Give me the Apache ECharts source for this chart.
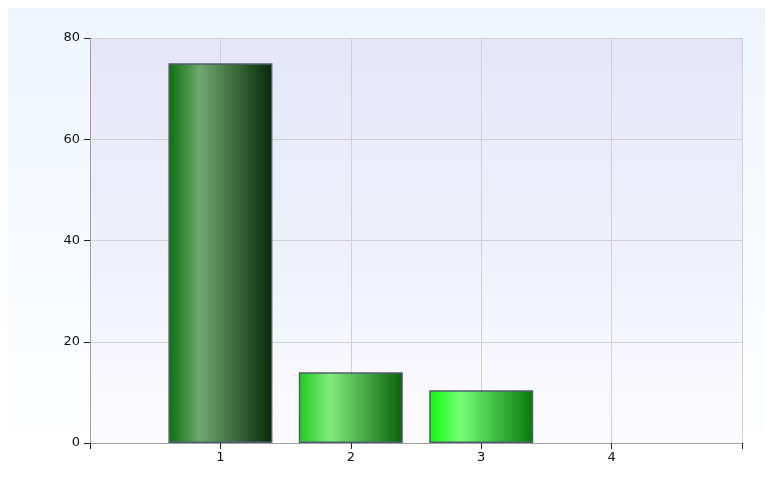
<!DOCTYPE html>
<html>
<head>
<meta charset="utf-8">
<script src="https://cdn.jsdelivr.net/npm/echarts@6/dist/echarts.min.js"></script>
<style>
    html, body { margin: 0; padding: 0; background: #ffffff; }
    #chart { width: 765px; height: 482px; }
</style>
</head>
<body>
<div id="chart"></div>
<script>
// 数据
const categories = [1, 2, 3, 4];
const values = [75, 14, 10.4, 0];
const yTicks = [0, 20, 40, 60, 80];
// bar gradients: left, highlight, right
const barColors = [
    ['#0b6e0b', '#6fa86f', '#062806'],
    ['#1ecb1e', '#80ec80', '#0a600a'],
    ['#12f812', '#74ff74', '#0a780a'],
    ['#12f812', '#74ff74', '#0a780a']
];

const myEcharts = echarts.init(document.getElementById('chart'));

function barGradient(c) {
    return new echarts.graphic.LinearGradient(0, 0, 1, 0, [
        { offset: 0, color: c[0] },
        { offset: 0.3, color: c[1] },
        { offset: 1, color: c[2] }
    ]);
}

const option = {
    animation: false,
    backgroundColor: '#ffffff',
    graphic: [{
        type: 'rect',
        left: 8,
        top: 8,
        z: -10,
        shape: { width: 757, height: 474 },
        style: {
            fill: new echarts.graphic.LinearGradient(0, 0, 0, 1, [
                { offset: 0, color: '#eef5fd' },
                { offset: 1, color: '#ffffff' }
            ])
        }
    }],
    grid: {
        left: 90,
        right: 23,
        top: 38,
        bottom: 39,
        show: true,
        borderWidth: 0,
        backgroundColor: new echarts.graphic.LinearGradient(0, 0, 0, 1, [
            { offset: 0, color: '#e5e5f8' },
            { offset: 1, color: '#fbfbfe' }
        ])
    },
    xAxis: {
        type: 'value',
        min: 0,
        max: categories.length + 1,
        interval: 1,
        axisLine: { show: true, lineStyle: { color: '#a0a0a0', width: 1 } },
        axisTick: { show: true, length: 6, lineStyle: { color: '#222222' } },
        splitLine: { show: true, lineStyle: { color: '#d2d2d2', width: 1 } },
        axisLabel: {
            color: '#111111',
            fontFamily: 'DejaVu Sans',
            fontSize: 13,
            margin: 8,
            formatter: function (v) {
                return categories.indexOf(v) >= 0 ? String(v) : '';
            }
        }
    },
    yAxis: {
        type: 'value',
        min: yTicks[0],
        max: yTicks[yTicks.length - 1],
        interval: yTicks[1] - yTicks[0],
        axisLine: { show: true, lineStyle: { color: '#a0a0a0', width: 1 } },
        axisTick: { show: true, length: 6, lineStyle: { color: '#222222' } },
        splitLine: { show: true, lineStyle: { color: '#d2d2d2', width: 1 } },
        axisLabel: {
            color: '#111111',
            fontFamily: 'DejaVu Sans',
            fontSize: 13,
            margin: 10
        }
    },
    series: [{
        type: 'bar',
        barWidth: 104,
        data: categories.map(function (c, i) {
            return {
                value: [c, values[i]],
                itemStyle: {
                    color: barGradient(barColors[i]),
                    borderColor: '#4d5e6c',
                    borderWidth: values[i] > 0 ? 1.5 : 0
                }
            };
        })
    }]
};

myEcharts.setOption(option);
</script>
</body>
</html>
